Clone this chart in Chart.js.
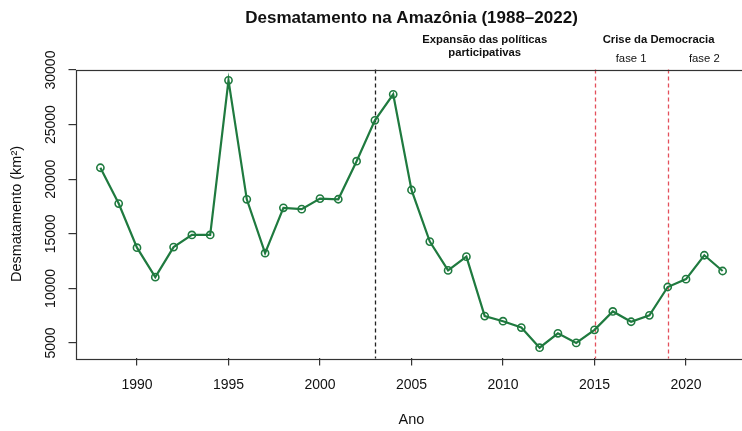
<!DOCTYPE html>
<html>
<head>
<meta charset="utf-8">
<script src="https://cdn.jsdelivr.net/npm/chart.js@4"></script>
<style>
  html, body { margin: 0; padding: 0; background: #fff; overflow: hidden; }
  #wrap { width: 742px; height: 431px; overflow: hidden; }
</style>
</head>
<body>
<div id="wrap"><canvas id="desmatamento" width="760" height="431" style="width:760px;height:431px"></canvas></div>
<script>
// Donnees (km2 par an)
const anos = [1988, 1989, 1990, 1991, 1992, 1993, 1994, 1995, 1996, 1997, 1998, 1999, 2000, 2001, 2002, 2003, 2004, 2005,
              2006, 2007, 2008, 2009, 2010, 2011, 2012, 2013, 2014, 2015, 2016, 2017, 2018, 2019, 2020, 2021, 2022];
const desmatamento = [21050, 17770, 13730, 11030, 13786, 14896, 14896, 29059, 18161, 13227, 17383, 17259, 18226, 18165,
                      21650, 25396, 27772, 19014, 14286, 11651, 12911, 7464, 7000, 6418, 4571, 5891, 5012, 6207, 7893,
                      6947, 7536, 10129, 10851, 13038, 11594];

const xTicks = [1990, 1995, 2000, 2005, 2010, 2015, 2020];
const yTicks = [5000, 10000, 15000, 20000, 25000, 30000];

// lignes verticales (annee, couleur)
const marcos = [[2003, '#222'], [2015, '#e4505c'], [2019, '#e4505c']];

// textes au dessus du graphique
const anotacoes = [
    { ano: 2009, linhas: ['Expansão das políticas', 'participativas'], bold: true },
    { ano: 2018.5, linhas: ['Crise da Democracia'], bold: true },
    { ano: 2017, linhas: ['fase 1'], bold: false, desce: true },
    { ano: 2021, linhas: ['fase 2'], bold: false, desce: true }
];

const FONT = "'Liberation Sans', Arial, Helvetica, sans-serif";
const verde = '#1f7a3f';

const decor = {
    id: 'decor',
    beforeDatasetsDraw(chart) {
        const ctx = chart.ctx;
        const area = chart.chartArea;
        const x = chart.scales.x;
        ctx.save();
        ctx.lineWidth = 1.3;
        ctx.setLineDash([4, 3]);
        marcos.forEach(([ano, cor]) => {
            const px = Math.round(x.getPixelForValue(ano)) + 0.5;
            ctx.strokeStyle = cor;
            ctx.beginPath();
            ctx.moveTo(px, area.top);
            ctx.lineTo(px, area.bottom);
            ctx.stroke();
        });
        ctx.restore();
    },
    afterDraw(chart) {
        const ctx = chart.ctx;
        const area = chart.chartArea;
        const x = chart.scales.x;
        const y = chart.scales.y;
        ctx.save();
        // cadre
        ctx.strokeStyle = '#333';
        ctx.lineWidth = 1.2;
        ctx.strokeRect(Math.round(area.left) + 0.5, Math.round(area.top) + 0.5,
                       Math.round(area.right - area.left), Math.round(area.bottom - area.top));

        ctx.fillStyle = '#111';
        ctx.textAlign = 'center';
        ctx.textBaseline = 'middle';
        const cx = (area.left + area.right) / 2;

        // titre
        ctx.font = 'bold 17px ' + FONT;
        ctx.fillText('Desmatamento na Amazônia (1988–2022)', cx, 18);

        // annotations
        anotacoes.forEach(a => {
            ctx.font = (a.bold ? 'bold ' : '') + '11.3px ' + FONT;
            a.linhas.forEach((l, i) => {
                ctx.fillText(l, x.getPixelForValue(a.ano), (a.desce ? 59 : 39.5) + i * 13.5);
            });
        });

        // labels axe x
        ctx.font = '14px ' + FONT;
        xTicks.forEach(t => ctx.fillText(String(t), x.getPixelForValue(t), 385));
        ctx.font = '14.5px ' + FONT;
        ctx.fillText('Ano', cx, 420);

        // labels axe y (tournes)
        yTicks.forEach(t => {
            ctx.save();
            ctx.translate(51, y.getPixelForValue(t));
            ctx.rotate(-Math.PI / 2);
            ctx.font = '14px ' + FONT;
            ctx.fillText(String(t), 0, 0);
            ctx.restore();
        });
        ctx.save();
        ctx.translate(17, (area.top + area.bottom) / 2);
        ctx.rotate(-Math.PI / 2);
        ctx.font = '14.5px ' + FONT;
        ctx.fillText('Desmatamento (km²)', 0, 0);
        ctx.restore();
        ctx.restore();
    }
};

new Chart(document.getElementById('desmatamento'), {
    type: 'line',
    data: {
        datasets: [{
            data: anos.map((a, i) => ({ x: a, y: desmatamento[i] })),
            borderColor: verde,
            backgroundColor: 'rgba(0,0,0,0)',
            borderWidth: 2.2,
            pointRadius: 3.6,
            pointBorderWidth: 1.6,
            pointBorderColor: verde,
            pointBackgroundColor: 'rgba(0,0,0,0)',
            tension: 0,
            clip: false
        }]
    },
    options: {
        responsive: false,
        animation: false,
        devicePixelRatio: 1,
        layout: { padding: { top: 69.6, right: 12.5, left: 0, bottom: 0 } },
        plugins: { legend: { display: false }, tooltip: { enabled: false }, title: { display: false } },
        scales: {
            x: {
                type: 'linear',
                min: 1986.64,
                max: 2023.36,
                afterBuildTicks: s => { s.ticks = xTicks.map(v => ({ value: v })); },
                afterFit: s => { s.height = 431 - 358.4; },
                ticks: { display: false },
                border: { display: false },
                grid: { drawOnChartArea: false, drawTicks: true, tickLength: 7, tickColor: '#333', lineWidth: 1.2 }
            },
            y: {
                min: 3591.5,
                max: 30038.5,
                afterBuildTicks: s => { s.ticks = yTicks.map(v => ({ value: v })); },
                afterFit: s => { s.width = 75.5; },
                ticks: { display: false },
                border: { display: false },
                grid: { drawOnChartArea: false, drawTicks: true, tickLength: 7, tickColor: '#333', lineWidth: 1.2 }
            }
        }
    },
    plugins: [decor]
});
</script>
</body>
</html>
